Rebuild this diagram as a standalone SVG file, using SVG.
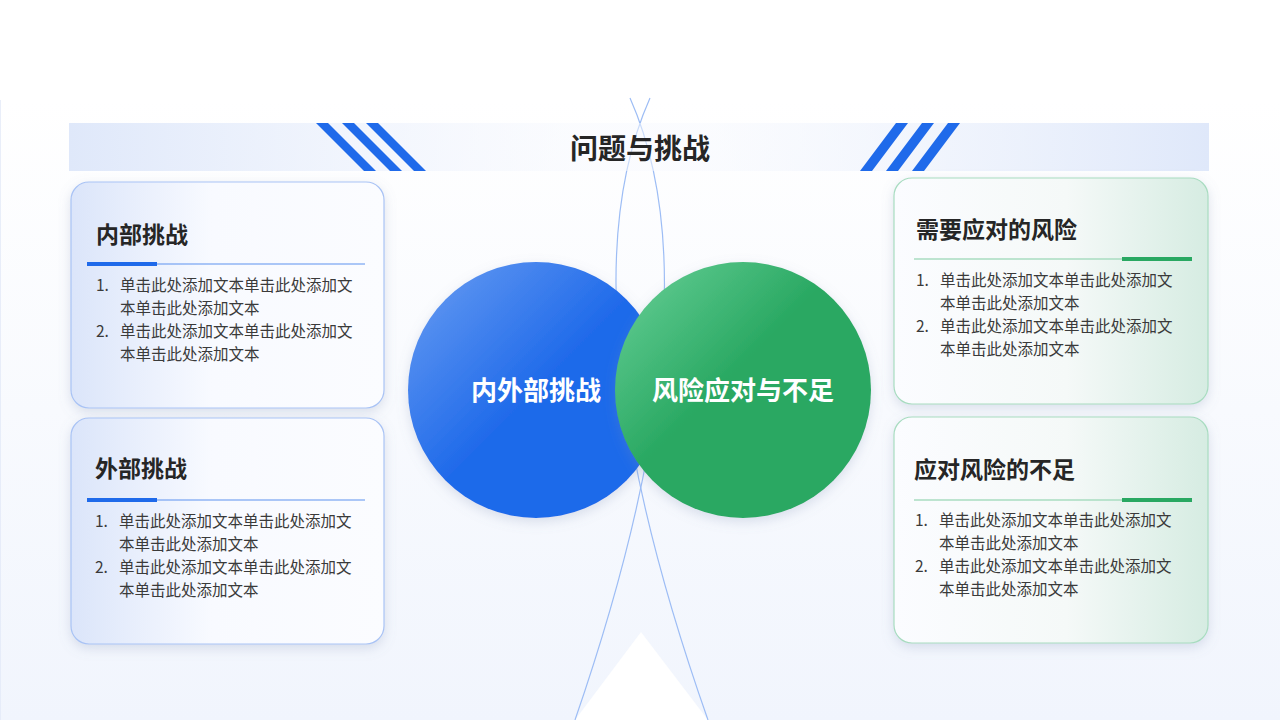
<svg xmlns="http://www.w3.org/2000/svg" width="1280" height="720" viewBox="0 0 1280 720">
<defs>
<linearGradient id="bg" x1="0" y1="0" x2="0" y2="1"><stop offset="0" stop-color="#ffffff"/><stop offset="1" stop-color="#f1f5fd"/></linearGradient>
<linearGradient id="band" x1="0" y1="0" x2="1" y2="0"><stop offset="0" stop-color="#dfe8fa"/><stop offset="0.45" stop-color="#f7f9fe" stop-opacity="0.5"/><stop offset="0.55" stop-color="#f7f9fe" stop-opacity="0.5"/><stop offset="1" stop-color="#dfe8fa"/></linearGradient>
<linearGradient id="cardB" x1="0" y1="0" x2="1" y2="0"><stop offset="0" stop-color="#dbe5fa"/><stop offset="0.45" stop-color="#f8faff"/><stop offset="1" stop-color="#fbfcff"/></linearGradient>
<linearGradient id="cardG" x1="0" y1="0" x2="1" y2="0"><stop offset="0" stop-color="#fbfcff"/><stop offset="0.55" stop-color="#f5f9f8"/><stop offset="1" stop-color="#d6ece2"/></linearGradient>
<linearGradient id="blue" x1="0" y1="0" x2="1" y2="1"><stop offset="0" stop-color="#6b9ef2"/><stop offset="0.5" stop-color="#1f6aea"/><stop offset="1" stop-color="#1f6aea"/></linearGradient>
<linearGradient id="green" x1="0" y1="0" x2="1" y2="1"><stop offset="0" stop-color="#6ad199"/><stop offset="0.45" stop-color="#29a862"/><stop offset="1" stop-color="#29a862"/></linearGradient>
<filter id="sh" x="-20%" y="-20%" width="140%" height="140%"><feDropShadow dx="0" dy="4" stdDeviation="6" flood-color="#7a8db0" flood-opacity="0.25"/></filter>
</defs>
<style>
.h{font-family:"Noto Sans CJK SC","Noto Sans",sans-serif;font-weight:700;font-size:23px;fill:#262626}
.t{font-family:"Noto Sans CJK SC","Noto Sans",sans-serif;font-size:15.5px;fill:#3a3a3a}
.c{font-family:"Noto Sans CJK SC","Noto Sans",sans-serif;font-weight:700;font-size:26px;fill:#ffffff}
</style>
<rect width="1280" height="720" fill="#ffffff"/>
<rect x="0" y="100" width="1280" height="620" fill="url(#bg)"/>
<path d="M0 100 V720" stroke="#e2e9f7" stroke-width="1.5"/>
<path d="M575 720 L641 632 L708 720 Z" fill="#ffffff"/>
<path d="M650 98 Q560 300 708 720" fill="none" stroke="#9dbdf5" stroke-width="1.2"/>
<path d="M630 98 Q720 300 575 720" fill="none" stroke="#9dbdf5" stroke-width="1.2"/>
<rect x="69" y="123" width="1140" height="48" fill="url(#band)"/>
<g fill="#1f6aea">
<polygon points="316,123 328,123 376,171 364,171"/><polygon points="342,123 354,123 402,171 390,171"/><polygon points="368,123 380,123 428,171 416,171" transform="translate(-2,0)"/>
<polygon points="896,123 908,123 872,171 860,171"/><polygon points="922,123 934,123 898,171 886,171"/><polygon points="948,123 960,123 924,171 912,171"/>
</g>
<text x="640" y="159" text-anchor="middle" class="h" style="font-size:28px">问题与挑战</text>
<g id="card1"><rect x="71" y="182" width="313" height="226" rx="18" fill="url(#cardB)" stroke="#a9c3f5" stroke-width="1.2" filter="url(#sh)"/>
<text x="96" y="243" class="h">内部挑战</text>
<line x1="87" y1="264" x2="365" y2="264" stroke="#5d92ef" stroke-width="1.2"/><rect x="87" y="262" width="70" height="4" fill="#1f6aea"/>
<text class="t"><tspan x="96" y="291">1.</tspan><tspan x="120" y="291">单击此处添加文本单击此处添加文</tspan><tspan x="120" y="314">本单击此处添加文本</tspan><tspan x="96" y="337">2.</tspan><tspan x="120" y="337">单击此处添加文本单击此处添加文</tspan><tspan x="120" y="360">本单击此处添加文本</tspan></text></g>
<g id="card2"><rect x="71" y="418" width="313" height="226" rx="18" fill="url(#cardB)" stroke="#a9c3f5" stroke-width="1.2" filter="url(#sh)"/>
<text x="95" y="477" class="h">外部挑战</text>
<line x1="87" y1="500" x2="365" y2="500" stroke="#5d92ef" stroke-width="1.2"/><rect x="87" y="498" width="70" height="4" fill="#1f6aea"/>
<text class="t"><tspan x="95" y="527">1.</tspan><tspan x="119" y="527">单击此处添加文本单击此处添加文</tspan><tspan x="119" y="550">本单击此处添加文本</tspan><tspan x="95" y="573">2.</tspan><tspan x="119" y="573">单击此处添加文本单击此处添加文</tspan><tspan x="119" y="596">本单击此处添加文本</tspan></text></g>
<g id="card3"><rect x="894" y="178" width="314" height="226" rx="18" fill="url(#cardG)" stroke="#a8dcc0" stroke-width="1.2" filter="url(#sh)"/>
<text x="916" y="238" class="h">需要应对的风险</text>
<line x1="914" y1="259" x2="1192" y2="259" stroke="#a8dcc0" stroke-width="1.5"/><rect x="1122" y="257" width="70" height="4" fill="#29a862"/>
<text class="t"><tspan x="916" y="286">1.</tspan><tspan x="940" y="286">单击此处添加文本单击此处添加文</tspan><tspan x="940" y="309">本单击此处添加文本</tspan><tspan x="916" y="332">2.</tspan><tspan x="940" y="332">单击此处添加文本单击此处添加文</tspan><tspan x="940" y="355">本单击此处添加文本</tspan></text></g>
<g id="card4"><rect x="894" y="417" width="314" height="226" rx="18" fill="url(#cardG)" stroke="#a8dcc0" stroke-width="1.2" filter="url(#sh)"/>
<text x="914" y="478" class="h">应对风险的不足</text>
<line x1="914" y1="500" x2="1192" y2="500" stroke="#a8dcc0" stroke-width="1.5"/><rect x="1122" y="498" width="70" height="4" fill="#29a862"/>
<text class="t"><tspan x="915" y="526">1.</tspan><tspan x="939" y="526">单击此处添加文本单击此处添加文</tspan><tspan x="939" y="549">本单击此处添加文本</tspan><tspan x="915" y="572">2.</tspan><tspan x="939" y="572">单击此处添加文本单击此处添加文</tspan><tspan x="939" y="595">本单击此处添加文本</tspan></text></g>
<g id="circleA"><circle cx="536" cy="390" r="128" fill="url(#blue)" filter="url(#sh)"/><text x="536" y="400" text-anchor="middle" class="c">内外部挑战</text></g>
<g id="circleB"><circle cx="743" cy="390" r="128" fill="url(#green)" filter="url(#sh)"/><text x="743" y="400" text-anchor="middle" class="c">风险应对与不足</text></g>
</svg>
